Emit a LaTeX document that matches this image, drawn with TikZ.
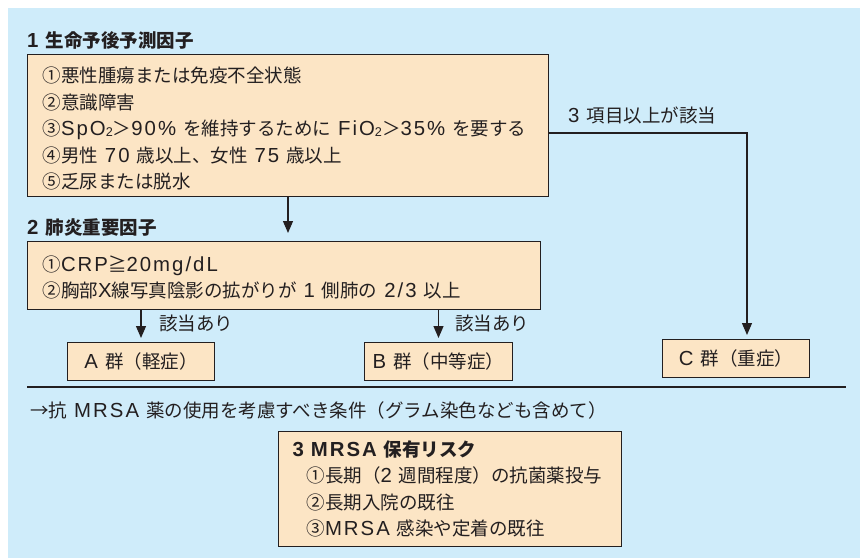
\documentclass[tikz,border=0pt]{standalone}
\usepackage{fontspec}
\setmainfont{Noto Sans CJK JP}
\newfontfamily\latf{Liberation Sans}[LetterSpace=10,Scale=1.1]
\usetikzlibrary{arrows.meta,shadows}
\definecolor{bgblue}{RGB}{207,236,250}
\definecolor{boxfill}{RGB}{252,229,197}
\definecolor{ink}{RGB}{35,31,32}
\newcommand\La[1]{{\latf #1}}
\newcommand\gp{\hspace{7pt}}
\newcommand\subtwo{\raisebox{-1pt}{\fontsize{11.5}{12}\selectfont\latf 2}}
\begin{document}
\begin{tikzpicture}[x=1pt,y=-1pt,
  every node/.style={text=ink},
  box/.style={draw=ink, line width=1pt, fill=boxfill, rectangle,
    drop shadow={shadow xshift=0.8pt, shadow yshift=-0.8pt, fill=black!45, opacity=0.6},
    font=\fontsize{18.5}{26.5}\selectfont},
  listbox/.style={box, anchor=north west, align=left, inner ysep=0pt, inner xsep=0pt},
  grpbox/.style={box, anchor=north west, inner sep=0pt, minimum height=38pt},
  lbl/.style={inner sep=0pt, anchor=west, font=\fontsize{18.5}{22}\selectfont},
  ttl/.style={inner sep=0pt, anchor=west, font=\fontsize{18.5}{22}\selectfont\bfseries},
  arr/.style={draw=ink, line width=1.2pt, -{Triangle[width=10pt,length=12pt]}}]
\useasboundingbox (0,0) rectangle (860,558);
\fill[bgblue] (8,8) rectangle (860,558);

% titles
\node[ttl] (t1) at (27,40) {\La{\bfseries 1}\hspace{7pt}生命予後予測因子};
\node[ttl] (t2) at (27,227) {\La{\bfseries 2}\hspace{7pt}肺炎重要因子};

% box 1
\node[listbox, text width=521pt, minimum height=142pt] (b1) at (27,54)
  {\hspace*{15pt}\rule{0pt}{22pt}①悪性腫瘍または免疫不全状態\\
   \hspace*{15pt}②意識障害\\
   \hspace*{15pt}③\La{SpO}\subtwo＞\La{90\%}\gp を維持するために\gp\La{FiO}\subtwo＞\La{35\%}\gp を要する\\
   \hspace*{15pt}④男性\gp\La{70}\gp 歳以上、女性\gp\La{75}\gp 歳以上\\
   \hspace*{15pt}⑤乏尿または脱水};

% box 2
\node[listbox, text width=513pt, minimum height=68pt] (b2) at (27,241)
  {\hspace*{15pt}\rule{0pt}{20pt}①\La{CRP}≧\La{20mg/dL}\\
   \hspace*{15pt}②胸部\La{X}線写真陰影の拡がりが\gp\La{1}\gp 側肺の\gp\La{2/3}\gp 以上};

% group boxes
\node[grpbox, minimum width=147pt] (bA) at (67,342) {\La{A}\gp 群（軽症）};
\node[grpbox, minimum width=148pt] (bB) at (364,342) {\La{B}\gp 群（中等症）};
\node[grpbox, minimum width=147pt] (bC) at (662,339) {\La{C}\gp 群（重症）};

% connectors
\coordinate (k1) at (288,0);
\draw[arr, shorten >=8pt] (k1 |- b1.south) -- (k1 |- b2.north);
\draw[arr, shorten >=4pt] (bA.north |- b2.south) -- (bA.north);
\draw[arr, shorten >=4pt] (bB.north |- b2.south) -- (bB.north);
\coordinate (k3) at (747,133);
\draw[arr, shorten >=4pt] (k3 -| b1.east) -- (k3) -- (k3 |- bC.north);

% labels
\node[lbl] (l3) at (568,115) {\La{3}\gp 項目以上が該当};
\node[lbl] (lA) at (159,323) {該当あり};
\node[lbl] (lB) at (455,323) {該当あり};

% rule
\coordinate (r1) at (27,387);
\coordinate (r2) at (846,387);
\draw[ink, line width=2.2pt] (r1) -- (r2);

% MRSA note
\node[lbl] (nm) at (30,410) {→抗\gp\La{MRSA}\gp 薬の使用を考慮すべき条件（グラム染色なども含めて）};

% box 3
\node[listbox, text width=343pt, minimum height=115pt] (b3) at (278,431)
  {\hspace*{14pt}\textbf{\La{\bfseries 3}\hspace{7pt}\La{\bfseries MRSA}\gp 保有リスク}\\
   \hspace*{28pt}①長期（\La{2}\gp 週間程度）の抗菌薬投与\\
   \hspace*{28pt}②長期入院の既往\\
   \hspace*{28pt}③\La{MRSA}\gp 感染や定着の既往};
\end{tikzpicture}
\end{document}
